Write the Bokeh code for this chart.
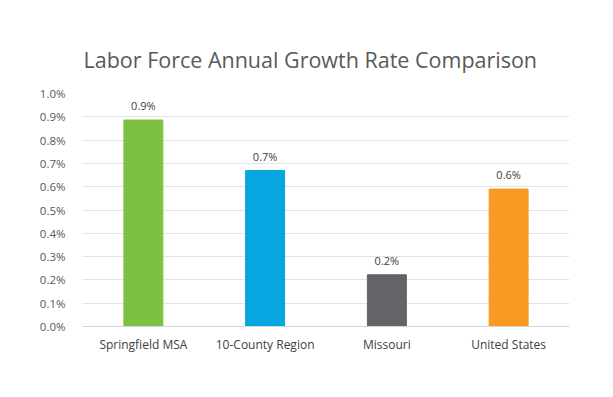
from bokeh.plotting import figure
from bokeh.models import ColumnDataSource, PrintfTickFormatter, FixedTicker, Range1d, Title
from bokeh.core.properties import value
from bokeh.embed import file_html
from bokeh.resources import INLINE

categories = ["Springfield MSA", "10-County Region", "Missouri", "United States"]
growth = [0.886, 0.669, 0.222, 0.590]
labels = ["0.9%", "0.7%", "0.2%", "0.6%"]
colors = ["#7dc142", "#06a6e0", "#636467", "#f89a24"]
y_ticks = [0.0, 0.1, 0.2, 0.3, 0.4, 0.5, 0.6, 0.7, 0.8, 0.9, 1.0]

FONT = "Open Sans"

src = ColumnDataSource(dict(cat=categories, val=growth, lab=labels, col=colors))

p = figure(x_range=categories, y_range=Range1d(0, 1.0), width=597, height=381,
           output_backend="svg", toolbar_location=None,
           min_border_left=82, min_border_right=28, min_border_top=93, min_border_bottom=55)

p.title = Title(text="Labor Force Annual Growth Rate Comparison", align="left", offset=1,
                text_font=FONT, text_font_size="21.5px", text_font_style="normal",
                text_color="#595959", standoff=39)

p.vbar(x="cat", top="val", width=0.32, color="col", source=src)
p.text(x="cat", y="val", text="lab", source=src, text_align="center", text_baseline="bottom",
       y_offset=-7, text_font=value(FONT), text_font_size="11px", text_color="#404040")

p.outline_line_color = None
p.background_fill_color = "white"
p.border_fill_color = "white"

p.xgrid.grid_line_color = None
p.ygrid.grid_line_color = "#e3e3e3"
p.ygrid.grid_line_width = 1

p.yaxis.ticker = FixedTicker(ticks=y_ticks)
p.yaxis.formatter = PrintfTickFormatter(format="%.1f%%")
p.yaxis.axis_line_color = None
p.yaxis.major_tick_line_color = None
p.yaxis.minor_tick_line_color = None
p.yaxis.major_label_standoff = 11
p.yaxis.major_label_text_font = FONT
p.yaxis.major_label_text_font_size = "11.5px"
p.yaxis.major_label_text_color = "#595959"

p.xaxis.axis_line_color = "#d4d4d4"
p.xaxis.axis_line_width = 1
p.xaxis.major_tick_line_color = None
p.xaxis.minor_tick_line_color = None
p.xaxis.major_label_standoff = 3
p.xaxis.major_label_text_font = FONT
p.xaxis.major_label_text_font_size = "12px"
p.xaxis.major_label_text_color = "#404040"

open("out.html", "w").write(file_html(p, INLINE))
